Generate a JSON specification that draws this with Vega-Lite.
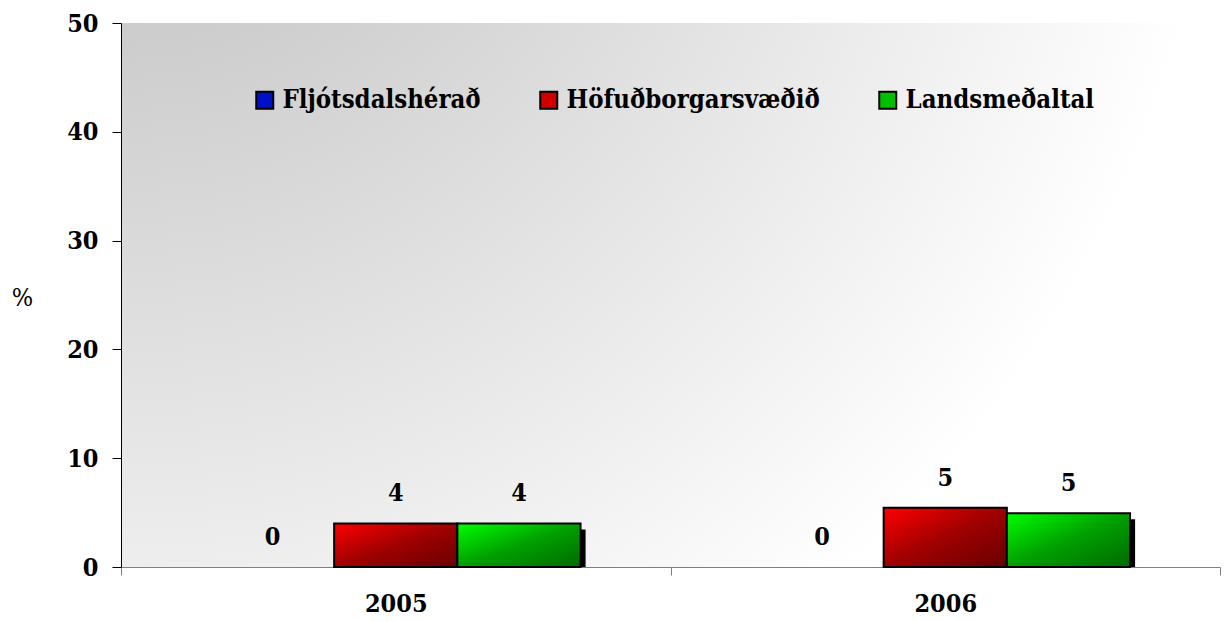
{
  "$schema": "https://vega.github.io/schema/vega-lite/v6.json",
  "width": 1099,
  "height": 544,
  "autosize": {"type": "none"},
  "padding": {"left": 121, "top": 23, "right": 7, "bottom": 54},
  "background": "#ffffff",
  "config": {
    "view": {
      "stroke": null,
      "fill": {
        "gradient": "radial", "x1": 0, "y1": 0, "r1": 0, "x2": 0, "y2": 0, "r2": 1,
        "stops": [
          {"offset": 0, "color": "#bbbbbb"},
          {"offset": 1, "color": "#ffffff"}
        ]
      }
    },
    "font": "DejaVu Serif Condensed",
    "axis": {"labelFont": "DejaVu Serif Condensed", "labelFontSize": 25, "labelFontWeight": "bold", "labelColor": "#000000", "grid": false}
  },
  "resolve": {"scale": {"xOffset": "independent"}},
  "data": {
    "values": [
      {"year": "2005", "series": "Fljótsdalshérað", "value": 0},
      {"year": "2005", "series": "Höfuðborgarsvæðið", "value": 4.0},
      {"year": "2005", "series": "Landsmeðaltal", "value": 4.0},
      {"year": "2006", "series": "Fljótsdalshérað", "value": 0},
      {"year": "2006", "series": "Höfuðborgarsvæðið", "value": 5.45},
      {"year": "2006", "series": "Landsmeðaltal", "value": 4.95}
    ]
  },
  "encoding": {
    "x": {
      "field": "year", "type": "nominal", "title": null,
      "scale": {"paddingInner": 0, "paddingOuter": 0},
      "axis": {"labelAngle": 0, "domainColor": "#808080", "tickColor": "#808080", "tickSize": 8, "tickBand": "extent", "labelPadding": 16}
    },
    "y": {
      "field": "value", "type": "quantitative",
      "scale": {"domain": [0, 50], "nice": false},
      "axis": {
        "values": [0, 10, 20, 30, 40, 50], "domainColor": "#000000", "tickColor": "#000000", "tickSize": 9, "labelPadding": 14,
        "title": "%", "titleAngle": 0, "titleX": -99, "titleY": 274, "titleAlign": "center", "titleBaseline": "middle",
        "titleFont": "DejaVu Serif Condensed", "titleFontSize": 25, "titleFontWeight": "normal", "titleColor": "#000000"
      }
    }
  },
  "layer": [
    {
      "mark": {"type": "bar", "strokeWidth": 0},
      "encoding": {
        "xOffset": {"field": "series", "type": "nominal", "scale": {"domain": ["Fljótsdalshérað", "Höfuðborgarsvæðið", "Landsmeðaltal"], "paddingInner": 0, "paddingOuter": 0.73}},
        "color": {
          "field": "series", "type": "nominal",
          "scale": {"domain": ["Fljótsdalshérað", "Höfuðborgarsvæðið", "Landsmeðaltal"], "range": ["#0010c8", "#d00000", "#00c000"]},
          "legend": {
            "title": null, "orient": "none", "direction": "horizontal", "legendX": 131, "legendY": 64,
            "symbolType": "square", "symbolSize": 289, "symbolStrokeColor": "#000000", "symbolStrokeWidth": 2, "symbolOpacity": 1,
            "labelFont": "DejaVu Serif Condensed", "labelFontSize": 25.5, "labelFontWeight": "bold", "labelColor": "#000000", "labelLimit": 500, "columnPadding": 55, "labelOffset": 5
          }
        }
      }
    },
    {
      "transform": [{"filter": "datum.value > 0"}],
      "mark": {"type": "bar", "color": "#000000", "yOffset": 6, "clip": true},
      "encoding": {
        "xOffset": {"field": "series", "type": "nominal", "scale": {"domain": ["Fljótsdalshérað", "Höfuðborgarsvæðið", "Landsmeðaltal"], "paddingInner": 0, "paddingOuter": 0.73, "align": 0.528}}
      }
    },
    {
      "transform": [{"filter": "datum.series === 'Höfuðborgarsvæðið'"}],
      "mark": {
        "type": "bar", "stroke": "#000000", "strokeWidth": 2,
        "color": {
          "gradient": "linear", "x1": 0, "y1": 0, "x2": 1, "y2": 1,
          "stops": [{"offset": 0, "color": "#ff0000"}, {"offset": 0.5, "color": "#a00000"}, {"offset": 1, "color": "#680000"}]
        }
      },
      "encoding": {
        "xOffset": {"field": "series", "type": "nominal", "scale": {"domain": ["Fljótsdalshérað", "Höfuðborgarsvæðið", "Landsmeðaltal"], "paddingInner": 0, "paddingOuter": 0.73}}
      }
    },
    {
      "transform": [{"filter": "datum.series === 'Landsmeðaltal'"}],
      "mark": {
        "type": "bar", "stroke": "#000000", "strokeWidth": 2,
        "color": {
          "gradient": "linear", "x1": 0, "y1": 0, "x2": 1, "y2": 1,
          "stops": [{"offset": 0, "color": "#00ff00"}, {"offset": 0.5, "color": "#00a000"}, {"offset": 1, "color": "#006a00"}]
        }
      },
      "encoding": {
        "xOffset": {"field": "series", "type": "nominal", "scale": {"domain": ["Fljótsdalshérað", "Höfuðborgarsvæðið", "Landsmeðaltal"], "paddingInner": 0, "paddingOuter": 0.73}}
      }
    },
    {
      "mark": {"type": "text", "baseline": "middle", "dy": -30, "font": "DejaVu Serif Condensed", "fontSize": 25, "fontWeight": "bold", "color": "#000000"},
      "encoding": {
        "xOffset": {"field": "series", "type": "nominal", "scale": {"type": "band", "domain": ["Fljótsdalshérað", "Höfuðborgarsvæðið", "Landsmeðaltal"], "paddingInner": 0, "paddingOuter": 0.73}},
        "text": {"field": "value", "type": "quantitative", "format": ".0f"}
      }
    }
  ]
}
